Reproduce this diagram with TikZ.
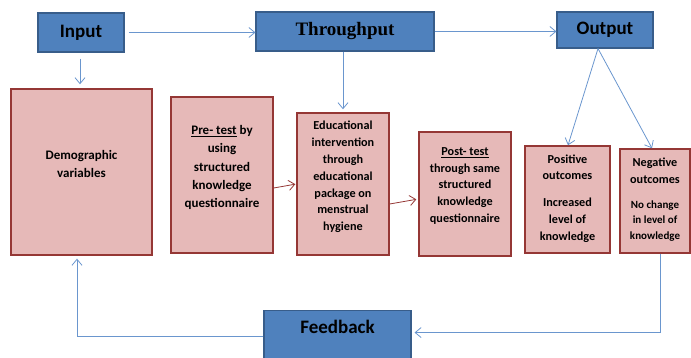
\documentclass[tikz,border=0pt]{standalone}
\usepackage{fontspec}
\setmainfont{Carlito}
\newfontfamily\headserif{Liberation Serif}
\usetikzlibrary{arrows.meta}
\definecolor{boxblue}{HTML}{4F81BD}
\definecolor{boxblueline}{HTML}{385D8A}
\definecolor{boxpink}{HTML}{E6B9B8}
\definecolor{boxpinkline}{HTML}{953735}
\definecolor{linkblue}{HTML}{6A96CE}
\tikzset{
  bluebox/.style={draw=boxblueline, fill=boxblue, line width=1.1pt, inner sep=0pt},
  pinkbox/.style={draw=boxpinkline, fill=boxpink, line width=1.4pt, inner sep=0pt},
  toptxt/.style={font=\fontsize{19}{22}\selectfont\bfseries, inner sep=0pt},
  bigtxt/.style={font=\fontsize{13}{18.2}\selectfont\bfseries, align=center, inner sep=0pt},
  midtxt/.style={font=\fontsize{12.2}{16.8}\selectfont\bfseries, align=center, inner sep=0pt},
  smalltxt/.style={font=\fontsize{11}{15.3}\selectfont\bfseries, align=center, inner sep=0pt},
  bluelink/.style={draw=linkblue, line width=0.8pt, -{Straight Barb[length=6pt,width=10pt]}},
  redlink/.style={draw=boxpinkline, line width=0.8pt, -{Straight Barb[length=6pt,width=10pt]}}
}
\begin{document}
\begin{tikzpicture}[x=1pt, y=1pt]
		\useasboundingbox (0,0) rectangle (691,358);
		
		%%%%% TOP ROW %%%%%
		\node[bluebox, minimum width=86, minimum height=39] (input) at (81,325.5) {};
		\node[toptxt] (inputtext) at (input.center) {Input};
		\node[bluebox, minimum width=178, minimum height=39] (through) at (345,326.5) {};
		\node[toptxt, font=\fontsize{19}{22}\selectfont\headserif\bfseries] (throughtext) at (through.center) {Throughput};
		\node[bluebox, minimum width=96, minimum height=36] (output) at (605,328) {};
		\node[toptxt] (outputtext) at (output.center) {Output};
		
		%%%%% PINK BOXES %%%%%
		\node[pinkbox, minimum width=141, minimum height=166] (demo) at (81.5,186) {};
		\node[bigtxt] (demotext) at ([yshift=8]demo.center) {Demographic\\variables};
		
		\node[pinkbox, minimum width=102, minimum height=156] (pretest) at (222,183) {};
		\node[bigtxt] (pretesttext) at ([yshift=7.5]pretest.center) {\underline{Pre- test} by\\using\\structured\\knowledge\\questionnaire};
		
		\node[pinkbox, minimum width=92, minimum height=142] (edu) at (343,174) {};
		\node[midtxt] (edutext) at ([yshift=7]edu.center) {Educational\\intervention\\through\\educational\\package on\\menstrual\\hygiene};
		
		\node[pinkbox, minimum width=92, minimum height=124] (posttest) at (465,164) {};
		\node[midtxt] (posttesttext) at ([yshift=8]posttest.center) {\underline{Post- test}\\through same\\structured\\knowledge\\questionnaire};
		
		\node[pinkbox, minimum width=85, minimum height=107] (positive) at (567.5,158.5) {};
		\node[midtxt] (positivetext) at ([yshift=1]positive.center) {Positive\\outcomes\\[10pt]Increased\\level of\\knowledge};
		
		\node[pinkbox, minimum width=70, minimum height=104] (negative) at (655,157) {};
		\node[midtxt] (negtitle) at ([yshift=30]negative.center) {Negative\\outcomes};
		\node[smalltxt] (negbody) at ([yshift=-20]negative.center) {No change\\in level of\\knowledge};
		
		%%%%% FEEDBACK %%%%%
		\node[bluebox, minimum width=147, minimum height=52, anchor=north] (feedback) at (337.5,48) {};
		\node[toptxt] (feedbacktext) at (337.5,31) {Feedback};
		
		%%%%% LINKS %%%%%
		\draw[bluelink, shorten <=4pt] (input.east) -- (input.east -| through.west);
		\draw[bluelink] (through.east) -- (through.east -| output.west);
		\draw[bluelink, shorten <=6pt, shorten >=4pt] ([xshift=-1]input.south) -- ([xshift=-1.5]demo.north);
		\draw[bluelink, shorten >=3pt] ([xshift=-2]through.south) -- (edu.north);
		\draw[bluelink] ([xshift=-7]output.south) -- ([xshift=0.5]positive.north);
		\draw[bluelink] ([xshift=-7]output.south) -- ([xshift=-3]negative.north);
		
		\draw[redlink, shorten >=1pt] ([yshift=-13]pretest.east) -- (edu.west);
		\draw[redlink, shorten >=2pt] ([yshift=-20]edu.east) -- ([yshift=-5]posttest.west);
		
		\draw[bluelink, shorten >=3pt] (feedback.west) -| ([xshift=-4.5]demo.south);
		\draw[bluelink, shorten >=3pt] ([xshift=5]negative.south) |- ([yshift=4]feedback.east);
		
\end{tikzpicture}
\end{document}
